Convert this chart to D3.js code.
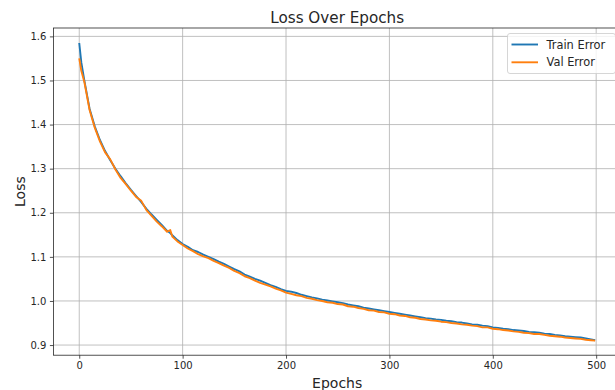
<!DOCTYPE html>
<html>
<head>
<meta charset="utf-8">
<script src="https://cdn.jsdelivr.net/npm/d3@7/dist/d3.min.js"></script>
<style>
  html, body { margin: 0; padding: 0; background: #fff; }
  svg { display: block; }
  text { font-family: "DejaVu Sans", sans-serif; fill: #262626; }
</style>
</head>
<body>
<svg id="chart" width="615" height="390"></svg>
<script>
const epochs = [0, 2, 5, 10, 15, 20, 25, 30, 35, 40, 45, 50, 55, 60, 65, 70, 75, 80, 85, 88, 90, 95,
  100, 105, 110, 115, 120, 125, 130, 135, 140, 145, 150, 155, 160, 165, 170, 175, 180, 185, 190, 195,
  200, 205, 210, 215, 220, 225, 230, 235, 240, 245, 250, 255, 260, 265, 270, 275, 280, 285, 290, 295,
  300, 305, 310, 315, 320, 325, 330, 335, 340, 345, 350, 355, 360, 365, 370, 375, 380, 385, 390, 395,
  400, 405, 410, 415, 420, 425, 430, 435, 440, 445, 450, 455, 460, 465, 470, 475, 480, 485, 490, 495, 499];

const trainError = [1.585, 1.541, 1.499, 1.436, 1.396, 1.365, 1.340, 1.319, 1.300, 1.283, 1.267, 1.252, 1.238, 1.224, 1.209, 1.196, 1.184, 1.172, 1.159, 1.154, 1.149, 1.138,
  1.129, 1.123, 1.115, 1.111, 1.105, 1.100, 1.095, 1.089, 1.084, 1.078, 1.072, 1.067, 1.060, 1.055, 1.050, 1.046, 1.041, 1.036, 1.032, 1.027,
  1.023, 1.021, 1.018, 1.014, 1.011, 1.008, 1.006, 1.003, 1.001, 0.999, 0.997, 0.995, 0.992, 0.990, 0.988, 0.985, 0.983, 0.981, 0.979, 0.977,
  0.975, 0.973, 0.971, 0.969, 0.967, 0.965, 0.963, 0.961, 0.960, 0.958, 0.957, 0.955, 0.954, 0.952, 0.951, 0.949, 0.947, 0.946, 0.944, 0.943,
  0.940, 0.939, 0.937, 0.936, 0.934, 0.933, 0.932, 0.930, 0.929, 0.928, 0.926, 0.925, 0.923, 0.922, 0.920, 0.919, 0.918, 0.917, 0.915, 0.913, 0.911];

const valError = [1.550, 1.522, 1.496, 1.433, 1.393, 1.362, 1.337, 1.321, 1.298, 1.279, 1.265, 1.250, 1.236, 1.227, 1.206, 1.193, 1.180, 1.169, 1.157, 1.161, 1.146, 1.135,
  1.127, 1.119, 1.113, 1.106, 1.101, 1.097, 1.091, 1.086, 1.080, 1.075, 1.068, 1.063, 1.056, 1.052, 1.046, 1.041, 1.037, 1.033, 1.028, 1.024,
  1.019, 1.016, 1.013, 1.011, 1.007, 1.005, 1.002, 1.000, 0.997, 0.996, 0.993, 0.992, 0.988, 0.987, 0.984, 0.982, 0.979, 0.978, 0.975, 0.974,
  0.971, 0.970, 0.967, 0.966, 0.963, 0.962, 0.959, 0.958, 0.956, 0.955, 0.953, 0.952, 0.950, 0.949, 0.947, 0.946, 0.944, 0.943, 0.940, 0.940,
  0.937, 0.936, 0.934, 0.933, 0.931, 0.930, 0.928, 0.927, 0.925, 0.925, 0.923, 0.921, 0.920, 0.919, 0.917, 0.916, 0.915, 0.914, 0.912, 0.911, 0.910];

const xTicks = [0, 100, 200, 300, 400, 500];
const yTicks = [0.9, 1.0, 1.1, 1.2, 1.3, 1.4, 1.5, 1.6];
const seriesNames = ["Train Error", "Val Error"];
const seriesColors = ["#1f77b4", "#ff7f0e"];

(function () {
const svg = d3.select("#chart");
svg.append("rect").attr("width", 615).attr("height", 390).attr("fill", "#fff");

const pL = 53.4, pR = 621, pT = 28, pB = 355.2;
const x = d3.scaleLinear().domain([-25, 524]).range([pL, pR]);
const y = d3.scaleLinear().domain([0.877, 1.619]).range([pB, pT]);

svg.append("defs").append("clipPath").attr("id", "clip")
  .append("rect").attr("x", pL).attr("y", pT).attr("width", pR - pL).attr("height", pB - pT);

// grid
const grid = svg.append("g");
grid.selectAll(".gx").data(xTicks).join("line")
  .attr("x1", d => x(d)).attr("x2", d => x(d)).attr("y1", pT).attr("y2", pB)
  .attr("stroke", "#b0b0b0").attr("stroke-width", 0.8);
grid.selectAll(".gy").data(yTicks).join("line")
  .attr("x1", pL).attr("x2", pR).attr("y1", d => y(d)).attr("y2", d => y(d))
  .attr("stroke", "#b0b0b0").attr("stroke-width", 0.8);

// lines
const series = [trainError, valError];
const line = d3.line().x((d, i) => x(epochs[i])).y(d => y(d));
const lg = svg.append("g").attr("clip-path", "url(#clip)");
series.forEach((s, k) => {
  lg.append("path").datum(s).attr("d", line)
    .attr("fill", "none").attr("stroke", seriesColors[k]).attr("stroke-width", 1.9)
    .attr("stroke-linejoin", "round");
});

// axes
const xAxis = d3.axisBottom(x).tickValues(xTicks).tickSize(3.5).tickPadding(3.5).tickFormat(d3.format("d"));
const yAxis = d3.axisLeft(y).tickValues(yTicks).tickSize(3.5).tickPadding(3.5).tickFormat(d3.format(".1f"));
const gx = svg.append("g").attr("transform", `translate(0,${pB})`).call(xAxis);
const gy = svg.append("g").attr("transform", `translate(${pL},0)`).call(yAxis);
[gx, gy].forEach(g => {
  g.select(".domain").remove();
  g.selectAll(".tick line").attr("stroke", "#262626").attr("stroke-width", 0.8);
  g.selectAll(".tick text").attr("font-size", 10).attr("font-family", "DejaVu Sans").attr("fill", "#262626");
});

// frame
svg.append("rect").attr("x", pL).attr("y", pT).attr("width", pR - pL).attr("height", pB - pT)
  .attr("fill", "none").attr("stroke", "#262626").attr("stroke-width", 0.8);

// title & labels
svg.append("text").attr("x", (pL + pR) / 2).attr("y", 22.5).attr("text-anchor", "middle")
  .attr("font-size", 15.2).text("Loss Over Epochs");
svg.append("text").attr("x", (pL + pR) / 2).attr("y", 387.5).attr("text-anchor", "middle")
  .attr("font-size", 14).text("Epochs");
svg.append("text").attr("transform", `translate(24.5,${(pT + pB) / 2}) rotate(-90)`)
  .attr("text-anchor", "middle").attr("font-size", 14).text("Loss");

// legend
const leg = svg.append("g");
leg.append("rect").attr("x", 507.5).attr("y", 33.5).attr("width", 108).attr("height", 40).attr("rx", 2.5)
  .attr("fill", "#fff").attr("fill-opacity", 0.8).attr("stroke", "#cccccc").attr("stroke-width", 0.8);
seriesNames.forEach((n, k) => {
  const yy = 44.5 + k * 17.8;
  leg.append("line").attr("x1", 511.5).attr("x2", 538).attr("y1", yy).attr("y2", yy)
    .attr("stroke", seriesColors[k]).attr("stroke-width", 1.9);
  leg.append("text").attr("x", 546.5).attr("y", yy + 4).attr("font-size", 11.4).text(n);
});
})();
</script>
</body>
</html>
